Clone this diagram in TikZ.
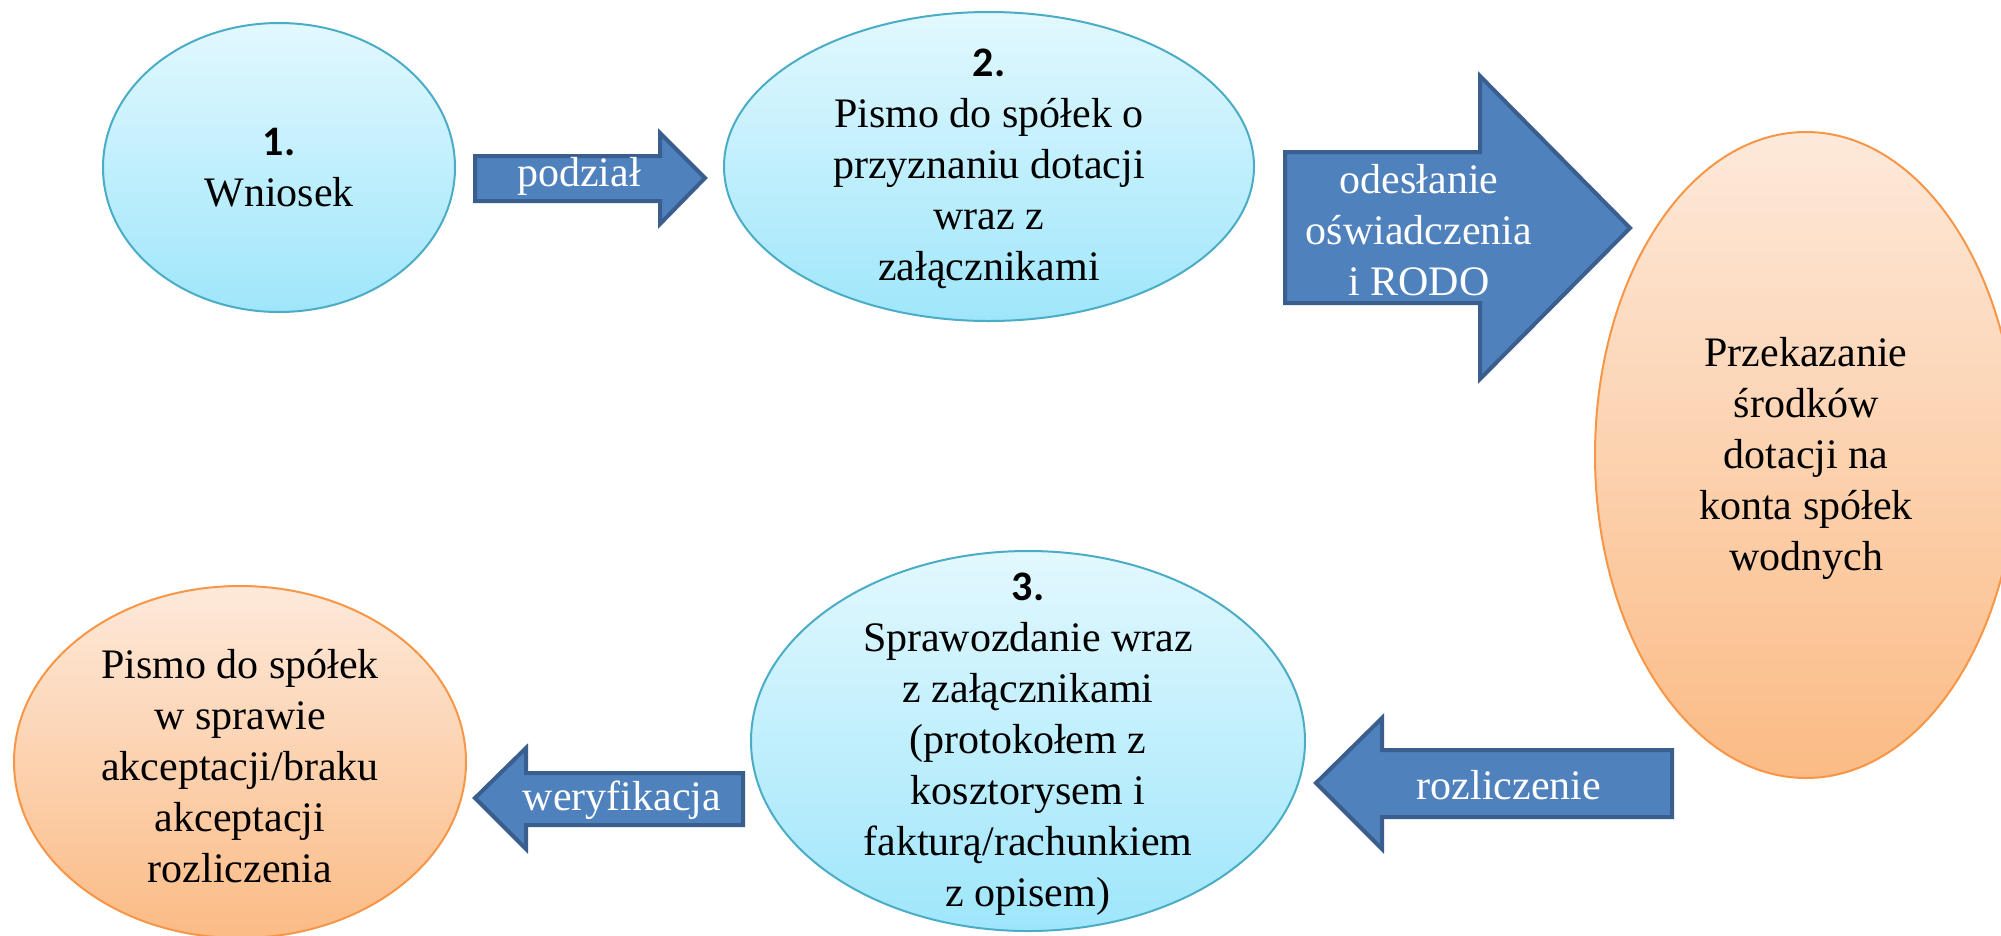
\documentclass[tikz,border=0pt]{standalone}
\usepackage{fontspec}
\setmainfont{Liberation Serif}
\newfontfamily\numfont{Carlito}
\usetikzlibrary{shapes.geometric}
\definecolor{bluetop}{HTML}{E2F8FE}
\definecolor{bluebot}{HTML}{9FE6FB}
\definecolor{bordblue}{HTML}{4BACC6}
\definecolor{orangetop}{HTML}{FDE9DA}
\definecolor{orangebot}{HTML}{FBBB85}
\definecolor{bordorange}{HTML}{F79646}
\definecolor{arrowfill}{HTML}{4F81BD}
\definecolor{arrowborder}{HTML}{3A5E8D}
\begin{document}
\begin{tikzpicture}[x=1pt,y=-1pt,
  blueell/.style={ellipse, draw=bordblue, line width=2pt, top color=bluetop, bottom color=bluebot, inner sep=0pt},
  orangeell/.style={ellipse, draw=bordorange, line width=2pt, top color=orangetop, bottom color=orangebot, inner sep=0pt},
  arrowshape/.style={fill=arrowfill, draw=arrowborder, line width=4pt, line join=miter},
  txt/.style={align=center, font=\fontsize{42}{51}\selectfont, inner sep=0pt},
  wtxt/.style={txt, text=white}]
\useasboundingbox (0,0) rectangle (2001,935);
\clip (0,0) rectangle (2001,935);
% ellipses
\node[blueell, minimum width=352pt, minimum height=289pt] (e1) at (279,167.5) {};
\node[blueell, minimum width=530pt, minimum height=309pt] (e2) at (989,166.5) {};
\node[orangeell, minimum width=422pt, minimum height=646pt] (e4) at (1806,455) {};
\node[blueell, minimum width=554pt, minimum height=380pt] (e3) at (1028,741) {};
\node[orangeell, minimum width=452pt, minimum height=352pt] (e5) at (240,762) {};
% arrows
\draw[arrowshape] (475,156) -- (660,156) -- (660,133) -- (705,178) -- (660,224) -- (660,201) -- (475,201) -- cycle;
\draw[arrowshape] (1285,152) -- (1480,152) -- (1480,76) -- (1630,228) -- (1480,379) -- (1480,303) -- (1285,303) -- cycle;
\draw[arrowshape] (1672,750) -- (1382,750) -- (1382,718) -- (1316,783) -- (1382,849) -- (1382,817) -- (1672,817) -- cycle;
\draw[arrowshape] (743,773) -- (526,773) -- (526,748) -- (475,798) -- (526,849) -- (526,825) -- (743,825) -- cycle;
% texts
\node[txt] (t1) at (e1) {{\numfont\bfseries 1.}\\Wniosek};
\node[txt] (t2) at (989,168.5) {{\numfont\bfseries 2.}\\Pismo do spółek o\\przyznaniu dotacji\\wraz z\\załącznikami};
\node[txt] (t4) at (1806,458) {Przekazanie\\środków\\dotacji na\\konta spółek\\wodnych};
\node[txt] (t3) at (1028,744) {{\numfont\bfseries 3.}\\Sprawozdanie wraz\\z załącznikami\\(protokołem z\\kosztorysem i\\fakturą/rachunkiem\\z opisem)};
\node[txt] (t5) at (240,766) {Pismo do spółek\\w sprawie\\akceptacji/braku\\akceptacji\\rozliczenia};
\node[wtxt] (l1) at (579,176) {podział};
\node[wtxt] (l2) at (1419,230) {odesłanie\\oświadczenia\\i RODO};
\node[wtxt] (l3) at (1509,785) {rozliczenie};
\node[wtxt] (l4) at (622,800) {weryfikacja};
\end{tikzpicture}
\end{document}
